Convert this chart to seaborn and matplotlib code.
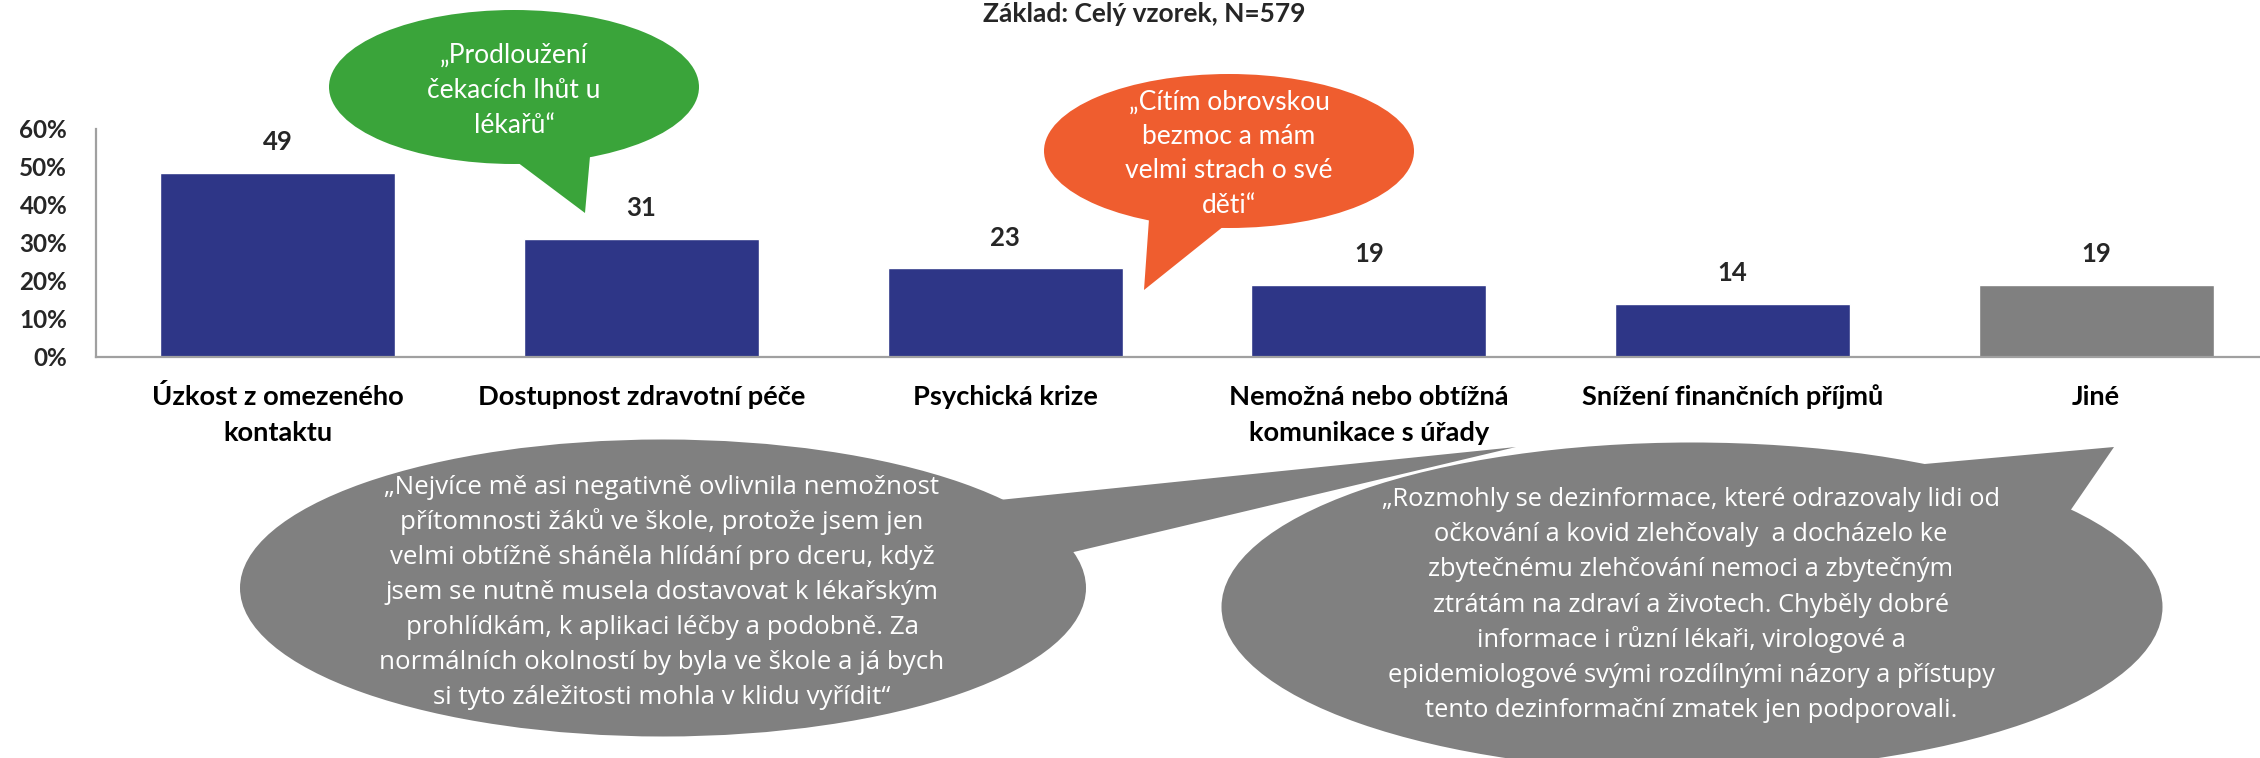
import matplotlib
matplotlib.use("Agg")
import matplotlib.pyplot as plt
import matplotlib.transforms as mtransforms
from matplotlib.patches import Ellipse, Polygon
from matplotlib.ticker import FuncFormatter
import pandas as pd
import seaborn as sns

# data
categories = ["Úzkost z omezeného\nkontaktu", "Dostupnost zdravotní péče", "Psychická krize",
              "Nemožná nebo obtížná\nkomunikace s úřady", "Snížení finančních příjmů", "Jiné"]
values = [48.5, 31.1, 23.3, 19.0, 14.0, 19.0]
value_labels = ["49", "31", "23", "19", "14", "19"]
bar_colors = ["#2E3687", "#2E3687", "#2E3687", "#2E3687", "#2E3687", "#808080"]
y_ticks = [0, 10, 20, 30, 40, 50, 60]
title = "Základ: Celý vzorek, N=579"

quote_green = ["„Prodloužení", "čekacích lhůt u", "lékařů“"]
quote_orange = ["„Cítím obrovskou", "bezmoc a mám", "velmi strach o své", "děti“"]
quote_left = ["„Nejvíce mě asi negativně ovlivnila nemožnost",
              "přítomnosti žáků ve škole, protože jsem jen",
              "velmi obtížně sháněla hlídání pro dceru, když",
              "jsem se nutně musela dostavovat k lékařským",
              "prohlídkám, k aplikaci léčby a podobně. Za",
              "normálních okolností by byla ve škole a já bych",
              "si tyto záležitosti mohla v klidu vyřídit“"]
quote_right = ["„Rozmohly se dezinformace, které odrazovaly lidi od",
               "očkování a kovid zlehčovaly  a docházelo ke",
               "zbytečnému zlehčování nemoci a zbytečným",
               "ztrátám na zdraví a životech. Chyběly dobré",
               "informace i různí lékaři, virologové a",
               "epidemiologové svými rozdílnými názory a přístupy",
               "tento dezinformační zmatek jen podporovali."]

sns.set_style("white")
plt.rcParams["font.family"] = ["Lato", "DejaVu Sans"]

W, H = 2260, 758
fig = plt.figure(figsize=(W / 100, H / 100), dpi=100)
ax = fig.add_axes([96 / W, 1 - 357 / H, 2182 / W, 228 / H])

df = pd.DataFrame({"kategorie": categories, "podil": values})
sns.barplot(data=df, x="kategorie", y="podil", hue="kategorie", palette=bar_colors,
            saturation=1, width=0.646, legend=False, ax=ax)

ax.set_xlim(-0.5, len(categories) - 0.5)
ax.set_ylim(0, 60)
ax.set_yticks(y_ticks)
ax.yaxis.set_major_formatter(FuncFormatter(lambda v, p: f"{v:.0f}%"))
ax.set_xlabel("")
ax.set_ylabel("")
for s in ["top", "right"]:
    ax.spines[s].set_visible(False)
for s in ["left", "bottom"]:
    ax.spines[s].set_color("#A0A0A0")
    ax.spines[s].set_linewidth(1.6)

ax.tick_params(axis="y", length=7.2, width=1.6, color="#A0A0A0", pad=13.5,
               labelsize=17.5)
for t in ax.get_yticklabels():
    t.set_fontweight("bold")
ax.set_xticks(range(len(categories)))
ax.set_xticklabels([])
ax.tick_params(axis="x", which="major", length=0)
ax.set_xticks([i - 0.5 for i in range(len(categories) + 1)], minor=True)
ax.tick_params(axis="x", which="minor", length=7.2, width=1.6, color="#A0A0A0")

# value labels
for i, (v, lab) in enumerate(zip(values, value_labels)):
    ax.annotate(lab, xy=(i, v), xytext=(0, 16.5), textcoords="offset points",
                ha="center", va="baseline", fontsize=18.5, fontweight="bold")

# overlay in pixel coords for bubbles and labels
ov = fig.add_axes([0, 0, 1, 1], facecolor="none")
ov.set_xlim(0, W)
ov.set_ylim(H, 0)
ov.axis("off")

# category labels (x from the category axis, y in pixels)
cat_trans = mtransforms.blended_transform_factory(ax.transData, ov.transData)
for i, cat in enumerate(categories):
    for j, line in enumerate(cat.split("\n")):
        ov.text(i, 405 + 36 * j, line, transform=cat_trans, ha="center", va="baseline",
                fontsize=19.6, fontweight="bold", color="black")

fig.text(1144 / W, 1 - 21.5 / H, title, ha="center", va="baseline",
         fontsize=19, fontweight="bold")


def bubble(center, size, tail, color, lines, x0, y0, dy, fs, family):
    ov.add_patch(Ellipse(center, size[0], size[1], facecolor=color, edgecolor="none", zorder=2))
    ov.add_patch(Polygon(tail, closed=True, facecolor=color, edgecolor="none", zorder=2))
    for k, line in enumerate(lines):
        ov.text(x0, y0 + dy * k, line, ha="center", va="baseline", color="white",
                fontsize=fs, family=family, zorder=3)


bubble((514, 87), (370, 154), [(501, 150), (585, 213), (591, 145)], "#3AA43A",
       quote_green, 514, 63, 35, 19, ["Lato", "DejaVu Sans"])
bubble((1229, 151), (370, 154), [(1150, 205), (1144, 290), (1244, 210)], "#EF5D2F",
       quote_orange, 1229, 109.5, 34.5, 19, ["Lato", "DejaVu Sans"])
bubble((663, 588), (846, 297), [(960, 504), (1516, 447), (1040, 560)], "#808080",
       quote_left, 662, 494, 35, 18.6, ["Open Sans", "DejaVu Sans"])
bubble((1692, 607), (941, 329), [(1880, 468), (2114, 447), (2057, 530)], "#808080",
       quote_right, 1691, 506, 35.2, 18.4, ["Open Sans", "DejaVu Sans"])

fig.savefig("out.png", dpi=100)
